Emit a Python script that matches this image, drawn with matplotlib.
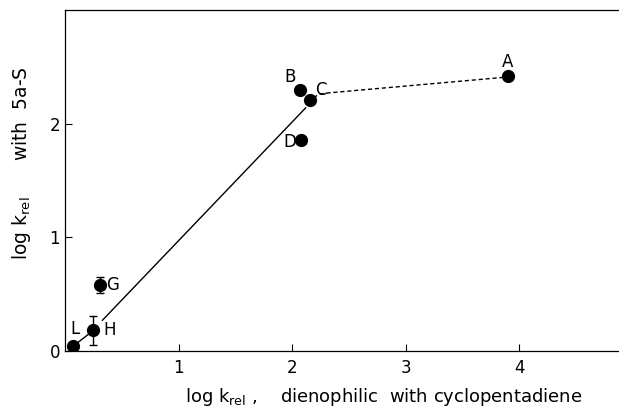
import matplotlib
matplotlib.use("Agg")
import matplotlib.pyplot as plt

# Data
labels = ["L", "H", "G", "B", "C", "D", "A"]
x_vals = [0.07, 0.25, 0.31, 2.07, 2.16, 2.08, 3.90]
y_vals = [0.04, 0.18, 0.58, 2.30, 2.21, 1.86, 2.42]
err_labels = ["H", "G"]
err_vals = [0.13, 0.07]

solid1_x = [0.07, 0.25]
solid1_y = [0.04, 0.18]
solid2_x = [0.33, 2.12]
solid2_y = [0.27, 2.14]
dashed_x = [2.19, 2.24, 2.30, 3.88]
dashed_y = [2.23, 2.26, 2.27, 2.41]

label_offsets = {"L": (-0.02, 0.15), "H": (0.09, 0.0), "G": (0.05, 0.0),
                 "B": (-0.14, 0.11), "C": (0.04, 0.09), "D": (-0.16, -0.02),
                 "A": (-0.05, 0.12)}

plt.rcParams['font.family'] = ['DejaVu Sans']
fig = plt.figure(figsize=(6.19, 4.08), dpi=100)
ax = fig.add_axes([0.105, 0.14, 0.895, 0.835])

ax.plot(solid1_x, solid1_y, color="black", lw=1.0)
ax.plot(solid2_x, solid2_y, color="black", lw=1.0)
ax.plot(dashed_x, dashed_y, color="black", lw=1.0, ls=(0, (3, 2)))

for lab, e in zip(err_labels, err_vals):
    i = labels.index(lab)
    ax.errorbar(x_vals[i], y_vals[i], yerr=e, fmt="none", ecolor="black",
                elinewidth=1.0, capsize=3, capthick=1.0)

ax.plot(x_vals, y_vals, "o", color="black", ms=8.5, ls="none")

for lab, x, y in zip(labels, x_vals, y_vals):
    dx, dy = label_offsets[lab]
    ax.text(x + dx, y + dy, lab, fontsize=12, ha="left", va="center")

ax.set_xlim(0, 4.88)
ax.set_ylim(0, 3.0)
ax.set_xticks([1, 2, 3, 4])
ax.set_yticks([0, 1, 2])
ax.tick_params(direction="in", length=5, labelsize=12, width=0.8)
ax.tick_params(axis="x", pad=6)
ax.spines["right"].set_visible(False)
for s in ["top", "left", "bottom"]:
    ax.spines[s].set_linewidth(0.9)

ax.set_xlabel(r"log k$_{\rm rel}$ ,    dienophilic  with cyclopentadiene",
              fontsize=13, labelpad=6, x=0.576)
ax.set_ylabel(r"log k$_{\rm rel}$      with  5a-S", fontsize=13.5, labelpad=12, y=0.55)

fig.savefig("out.png", dpi=100)
